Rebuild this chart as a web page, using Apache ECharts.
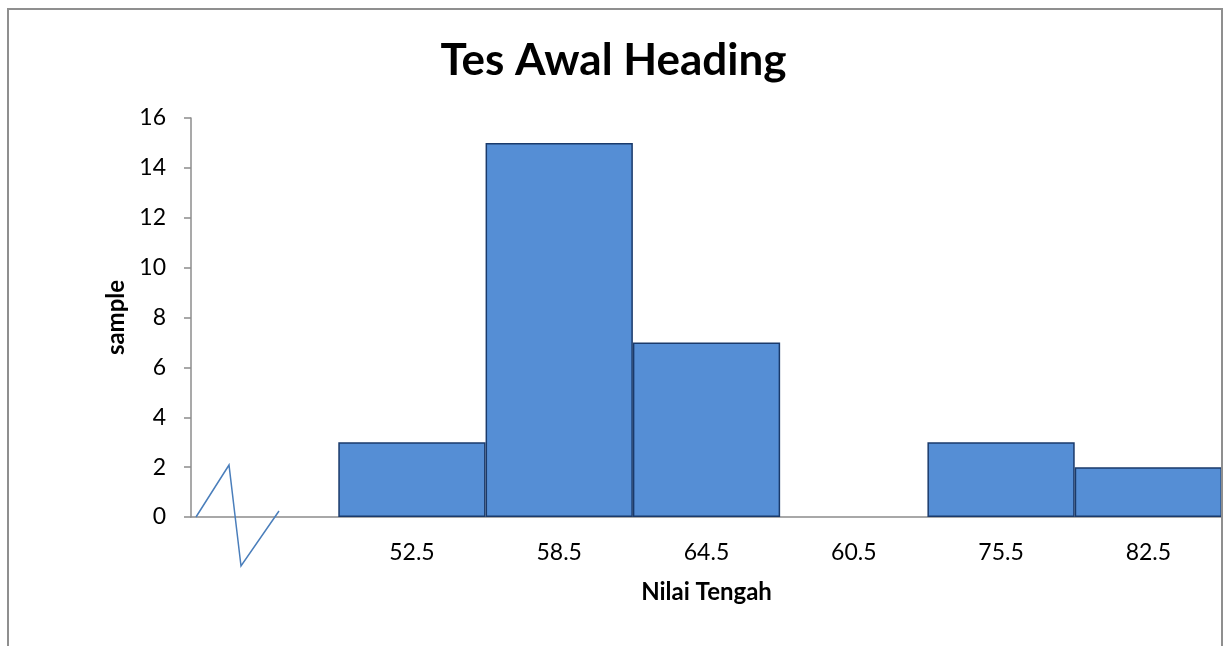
<!DOCTYPE html>
<html>
<head>
<meta charset="utf-8">
<script src="https://cdn.jsdelivr.net/npm/echarts@6/dist/echarts.min.js"></script>
<style>
  html, body { margin: 0; padding: 0; background: #ffffff; }
  #chart { width: 1227px; height: 646px; }
</style>
</head>
<body>
<div id="chart"></div>
<script>
// Midpoint classes (the first slot is left empty next to the axis break)
const categories = ['', '52.5', '58.5', '64.5', '60.5', '75.5', '82.5'];
// Number of samples per class
const samples = [null, 3, 15, 7, 0, 3, 2];
// Value axis ticks
const yTicks = [0, 2, 4, 6, 8, 10, 12, 14, 16];

const FONT = 'Lato, "Open Sans", sans-serif';
const chart = echarts.init(document.getElementById('chart'));

// empty classes get no outline so nothing shows on the baseline
const barData = samples.map(v => (v === 0
  ? { value: v, itemStyle: { borderWidth: 0 } }
  : v));

chart.setOption({
  backgroundColor: '#ffffff',
  animation: false,
  title: {
    text: 'Tes Awal Heading',
    left: 'center',
    top: 34,
    textStyle: { fontFamily: FONT, fontWeight: 'bold', fontSize: 44, color: '#000000' }
  },
  grid: { left: 191, top: 118, right: 5, bottom: 129, containLabel: false },
  xAxis: {
    type: 'category',
    data: categories,
    boundaryGap: true,
    name: 'Nilai Tengah',
    nameLocation: 'middle',
    nameGap: 63,
    nameTextStyle: { fontFamily: FONT, fontWeight: 'bold', fontSize: 24, color: '#000000' },
    axisLine: { show: true, lineStyle: { color: '#8c8c8c', width: 1.5 } },
    axisTick: { show: false },
    axisLabel: { fontFamily: FONT, fontSize: 23, color: '#000000', margin: 24 },
    splitLine: { show: false }
  },
  yAxis: {
    type: 'value',
    min: yTicks[0],
    max: yTicks[yTicks.length - 1],
    interval: 2,
    name: 'sample',
    nameLocation: 'middle',
    nameGap: 62,
    nameTextStyle: { fontFamily: FONT, fontWeight: 'bold', fontSize: 24, color: '#000000' },
    axisLine: { show: true, lineStyle: { color: '#8c8c8c', width: 1.5 } },
    axisTick: { show: true, inside: false, length: 7, lineStyle: { color: '#8c8c8c', width: 1.5 } },
    axisLabel: { fontFamily: FONT, fontSize: 23, color: '#000000', margin: 25 },
    splitLine: { show: false }
  },
  series: [{
    type: 'bar',
    data: barData,
    barWidth: '100%',
    barGap: '0%',
    itemStyle: { color: '#558ed5', borderColor: '#1a3a6b', borderWidth: 1.5 }
  }],
  graphic: [
    // outer chart frame
    {
      type: 'rect',
      shape: { x: 8, y: 9, width: 1214, height: 660 },
      style: { fill: 'none', stroke: '#8f8f8f', lineWidth: 2 },
      z: 10
    },
    // axis break mark at the start of the category axis
    {
      type: 'polyline',
      shape: { points: [[196, 517], [229, 465], [241, 566], [279, 511]] },
      style: { fill: 'none', stroke: '#4a7ebb', lineWidth: 1.5 },
      z: 10
    }
  ]
});
</script>
</body>
</html>
